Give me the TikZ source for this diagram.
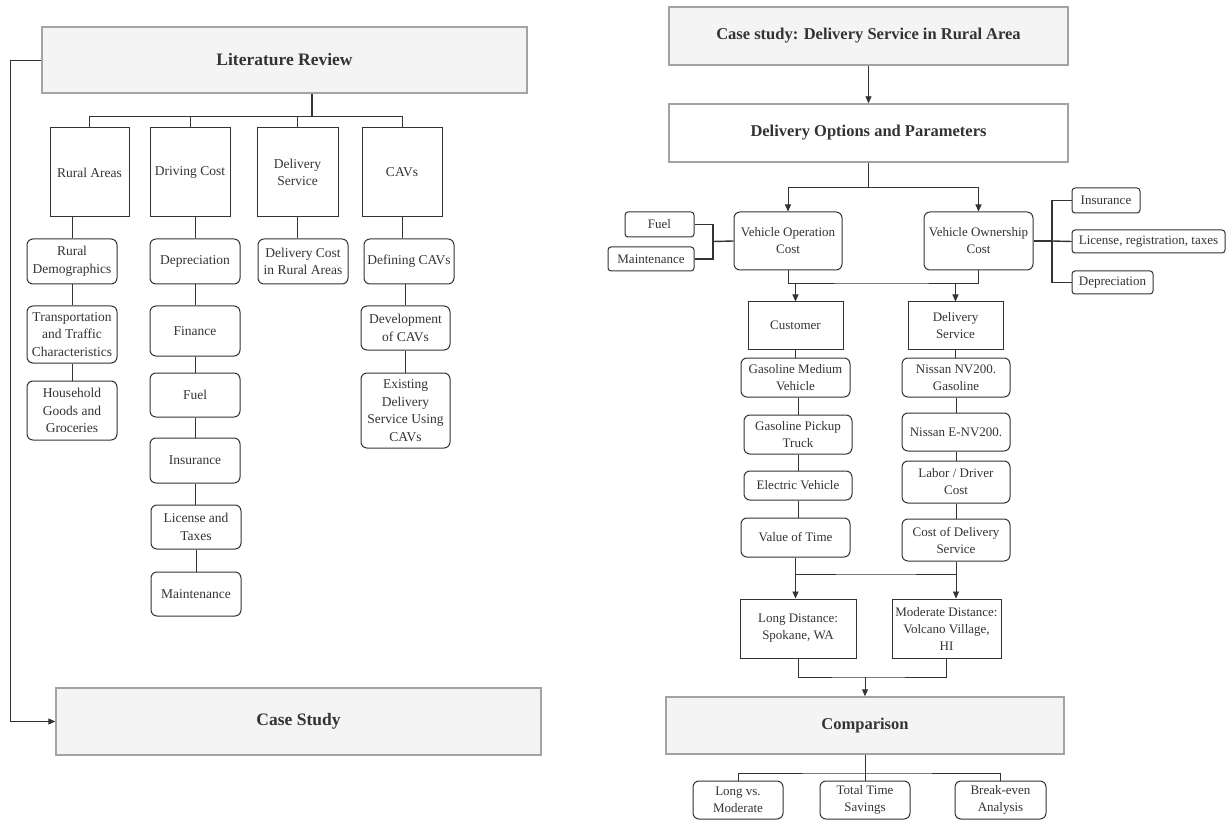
\documentclass[tikz,border=0pt]{standalone}
\usepackage{fontspec}
\setmainfont{Liberation Serif}
\usetikzlibrary{arrows.meta}

\definecolor{boxgray}{HTML}{F4F4F4}
\definecolor{edgegray}{HTML}{A3A3A3}
\definecolor{ink}{HTML}{333333}

\tikzset{
  head/.style = {draw = edgegray, fill = boxgray, line width = 1.4pt, text = ink,
                 font = \fontsize{17.5}{21}\selectfont\bfseries},
  topic/.style = {draw = ink, line width = 1pt, align = center, inner sep = 1pt, text = ink,
                  font = \fontsize{13.5}{17.5}\selectfont},
  item/.style = {topic, rounded corners = 6pt},
  rtopic/.style = {topic, font = \fontsize{13}{17}\selectfont},
  ritem/.style = {rtopic, rounded corners = 6pt},
  link/.style = {draw = ink, line width = 0.9pt},
  arr/.style = {link, -{Triangle[length = 7pt, width = 6pt]}},
}

\begin{document}
\begin{tikzpicture}[x = 1pt, y = -1pt]
            \useasboundingbox (0,0) rectangle (1227,821);

            % left part: literature review
            \node[head, minimum width = 485pt, minimum height = 66pt] (lit) at (284.5,60) {Literature Review};
            \node[head, minimum width = 485pt, minimum height = 67pt] (cs) at (298.5,721.5) {Case Study};

            \node[topic, minimum width = 79pt, minimum height = 89pt] (ra) at (89.5,172.5) {Rural Areas};
            \node[topic, minimum width = 80pt, minimum height = 89pt] (dc) at (190,172.5) {Driving Cost};
            \node[topic, minimum width = 81pt, minimum height = 89pt] (dsv) at (297.5,172.5) {Delivery\\Service};
            \node[topic, minimum width = 80pt, minimum height = 89pt] (cav) at (402,172.5) {CAVs};

            \node[item, minimum width = 90pt, minimum height = 45pt] (rd) at (72,261.5) {Rural\\Demographics};
            \node[item, minimum width = 90pt, minimum height = 57pt] (ttc) at (72,334.5) {Transportation\\and Traffic\\Characteristics};
            \node[item, minimum width = 90pt, minimum height = 59pt] (hgg) at (72,410.5) {Household\\Goods and\\Groceries};

            \node[item, minimum width = 90pt, minimum height = 45pt] (dep) at (195,261.5) {Depreciation};
            \node[item, minimum width = 90pt, minimum height = 50pt] (fin) at (195,331) {Finance};
            \node[item, minimum width = 90pt, minimum height = 44pt] (fuel) at (195,395) {Fuel};
            \node[item, minimum width = 90pt, minimum height = 45pt] (ins) at (195,460.5) {Insurance};
            \node[item, minimum width = 90pt, minimum height = 44pt] (lic) at (196,527) {License and\\Taxes};
            \node[item, minimum width = 90pt, minimum height = 44pt] (mnt) at (196,594) {Maintenance};

            \node[item, minimum width = 90pt, minimum height = 45pt] (dcr) at (303,261.5) {Delivery Cost\\in Rural Areas};

            \node[item, minimum width = 90pt, minimum height = 45pt] (dfc) at (409,261.5) {Defining CAVs};
            \node[item, minimum width = 89pt, minimum height = 44pt] (dev) at (405.5,328) {Development\\of CAVs};
            \node[item, minimum width = 89pt, minimum height = 75pt] (eds) at (405.5,410.5) {Existing\\Delivery\\Service Using\\CAVs};

            \coordinate (lt) at (312,116);
            \draw[link, line width = 2pt] (lt |- lit.south) -- (lt);
            \draw[link] (ra.north |- lt) -- (cav.north |- lt);
            \draw[link] (ra.north |- lt) -- (ra.north);
            \draw[link] (dc.north |- lt) -- (dc.north);
            \draw[link] (dsv.north |- lt) -- (dsv.north);
            \draw[link] (cav.north |- lt) -- (cav.north);

            \draw[link] (rd.north |- ra.south) -- (rd.north);
            \draw[link] (rd) -- (ttc);
            \draw[link] (ttc) -- (hgg);
            \draw[link] (dep.north |- dc.south) -- (dep.north);
            \draw[link] (dep) -- (fin);
            \draw[link] (fin) -- (fuel);
            \draw[link] (fuel) -- (ins);
            \draw[link] (ins.south) -- (ins.south |- lic.north);
            \draw[link] (lic) -- (mnt);
            \draw[link] (dsv.south) -- (dsv.south |- dcr.north);
            \draw[link] (cav.south) -- (cav.south |- dfc.north);
            \draw[link] (dev.north |- dfc.south) -- (dev.north);
            \draw[link] (dev) -- (eds);

            \draw[arr] (lit.west) -- ++(-31,0) |- (cs.west);

            % right part: case study
            \node[head, font = \fontsize{16.5}{20}\selectfont\bfseries, minimum width = 399pt, minimum height = 58pt] (cdr) at (868.5,36) {Case study: Delivery Service in Rural Area};
            \node[head, fill = white, font = \fontsize{16.5}{20}\selectfont\bfseries, minimum width = 399pt, minimum height = 58pt] (dop) at (868.5,133) {Delivery Options and Parameters};

            \node[ritem, minimum width = 108pt, minimum height = 58pt] (voc) at (788,241) {Vehicle Operation\\Cost};
            \node[ritem, minimum width = 109pt, minimum height = 58pt] (vown) at (978.5,241) {Vehicle Ownership\\Cost};
            \node[ritem, rounded corners = 3pt, minimum width = 69pt, minimum height = 25pt] (fl) at (659.5,224.5) {Fuel};
            \node[ritem, rounded corners = 3pt, minimum width = 86pt, minimum height = 24pt] (mt) at (651,259) {Maintenance};
            \node[ritem, rounded corners = 3pt, minimum width = 68pt, minimum height = 25pt] (insr) at (1106,200.5) {Insurance};
            \node[ritem, rounded corners = 3pt, minimum width = 153pt, minimum height = 23pt] (lrt) at (1148.5,241.5) {License, registration, taxes};
            \node[ritem, rounded corners = 3pt, minimum width = 81pt, minimum height = 23pt] (depr) at (1112.5,282.5) {Depreciation};

            \node[rtopic, minimum width = 95pt, minimum height = 47pt] (cust) at (795.5,325.5) {Customer};
            \node[rtopic, minimum width = 95pt, minimum height = 47pt] (dsr) at (955.5,325.5) {Delivery\\Service};

            \node[ritem, minimum width = 109pt, minimum height = 39pt] (gmv) at (795.5,377.5) {Gasoline Medium\\Vehicle};
            \node[ritem, minimum width = 108pt, minimum height = 39pt] (gpt) at (798,434.5) {Gasoline Pickup\\Truck};
            \node[ritem, minimum width = 108pt, minimum height = 29pt] (ev) at (798,485.5) {Electric Vehicle};
            \node[ritem, minimum width = 109pt, minimum height = 39pt] (vot) at (795.5,537.5) {Value of Time};

            \node[ritem, minimum width = 108pt, minimum height = 39pt] (nvg) at (956,377.5) {Nissan NV200.\\Gasoline};
            \node[ritem, minimum width = 108pt, minimum height = 38pt] (env) at (956,432) {Nissan E-NV200.};
            \node[ritem, minimum width = 108pt, minimum height = 42pt] (ldc) at (956,482) {Labor / Driver\\Cost};
            \node[ritem, minimum width = 108pt, minimum height = 42pt] (cds) at (956,540) {Cost of Delivery\\Service};

            \node[rtopic, minimum width = 116pt, minimum height = 59pt] (ld) at (798,628.5) {Long Distance:\\Spokane, WA};
            \node[rtopic, minimum width = 109pt, minimum height = 59pt] (md) at (946.5,628.5) {Moderate Distance:\\Volcano Village,\\HI};

            \node[head, font = \fontsize{16.5}{20}\selectfont\bfseries, minimum width = 398pt, minimum height = 57pt] (cmp) at (865,725.5) {Comparison};

            \node[ritem, minimum width = 90pt, minimum height = 38pt] (lvm) at (738,800) {Long vs.\\Moderate};
            \node[ritem, minimum width = 90pt, minimum height = 38pt] (tts) at (865,800) {Total Time\\Savings};
            \node[ritem, minimum width = 91pt, minimum height = 38pt] (bea) at (1000.5,800) {Break-even\\Analysis};

            \draw[arr] (cdr) -- (dop);

            \coordinate (j1) at (868.5,187);
            \draw[link] (dop.south) -- (j1);
            \draw[arr] (j1) -| (voc.north);
            \draw[arr] (j1) -| (vown.north);

            \coordinate (jf) at (713,241.5);
            \draw[link, line width = 1.4pt] (fl.east) -| (jf) |- (mt.east);
            \draw[link, line width = 1.4pt] (jf) -- (voc.west);

            \coordinate (jo) at (1052,241);
            \draw[link, line width = 1.4pt] (vown.east) -- (jo);
            \draw[link, line width = 1.4pt] (insr.west) -| (jo) |- (depr.west);
            \draw[link, line width = 1.4pt] (jo) -- (lrt.west);

            \coordinate (j2) at (880,283);
            \draw[link] (voc.south) |- (j2) -| (vown.south);
            \draw[arr] (j2 -| cust.north) -- (cust.north);
            \draw[arr] (j2 -| dsr.north) -- (dsr.north);

            \draw[link] (cust.south) -- (gmv.north);
            \draw[link] (gpt.north |- gmv.south) -- (gpt.north);
            \draw[link] (gpt) -- (ev);
            \draw[link] (ev.south) -- (ev.south |- vot.north);
            \draw[link] (dsr.south) -- (dsr.south |- nvg.north);
            \draw[link] (nvg) -- (env);
            \draw[link] (env) -- (ldc);
            \draw[link] (ldc) -- (cds);

            \coordinate (j3) at (876,574);
            \draw[link] (vot.south) |- (j3) -| (cds.south);
            \draw[arr] (vot.south |- j3) -- (vot.south |- ld.north);
            \draw[arr] (cds.south |- j3) -- (cds.south |- md.north);

            \coordinate (j4) at (865,677);
            \draw[link] (ld.south) |- (j4) -| (md.south);
            \draw[arr] (j4) -- (cmp.north);

            \coordinate (j5) at (865,773);
            \draw[link] (cmp.south) -- (j5);
            \draw[link] (lvm.north) |- (j5) -| (bea.north);
            \draw[link] (j5) -- (tts.north);
        \end{tikzpicture}
\end{document}
